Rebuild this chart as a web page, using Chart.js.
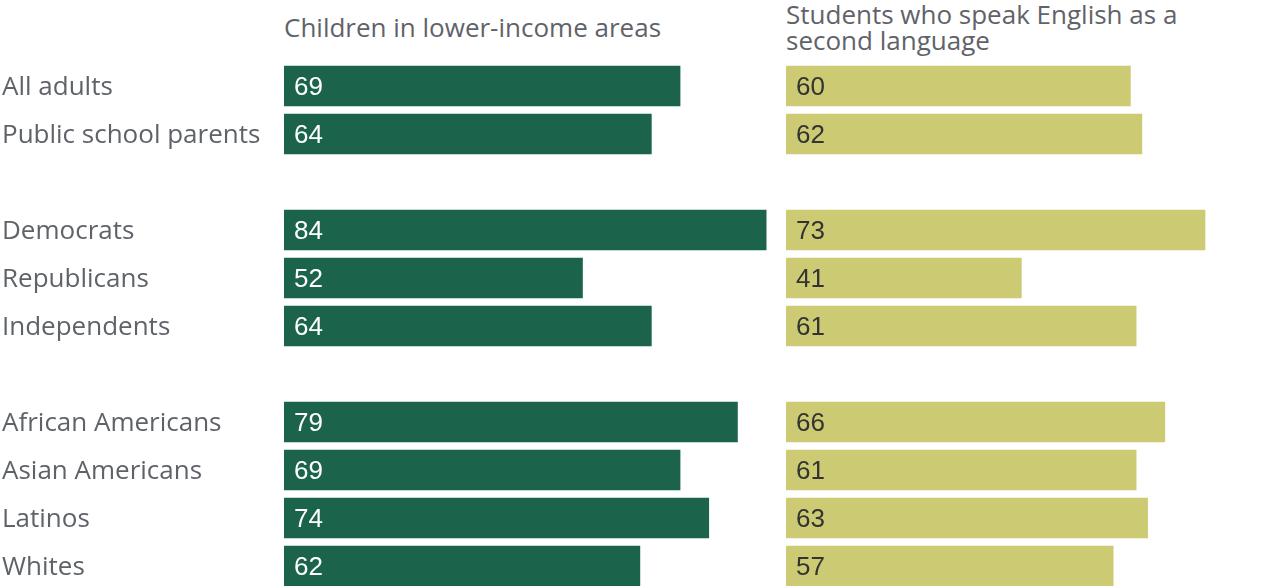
<!DOCTYPE html>
<html>
<head>
<meta charset="utf-8">
<script src="https://cdn.jsdelivr.net/npm/chart.js@4/dist/chart.umd.min.js"></script>
<style>
  html, body { margin: 0; padding: 0; background: #fff; overflow: hidden; }
  #wrap { position: relative; width: 1280px; height: 586px; overflow: hidden; }
  .title { position: absolute; font-family: "Open Sans", sans-serif; font-size: 26px; color: #5f6369; line-height: 26px; white-space: nowrap; }
  #leftBox { position: absolute; left: 0; top: 0; width: 776px; height: 590px; }
  #rightBox { position: absolute; left: 786px; top: 0; width: 494px; height: 590px; }
</style>
</head>
<body>
<div id="wrap">
  <div class="title" style="left:284px; top:14px;">Children in lower-income areas</div>
  <div class="title" style="left:786px; top:1px;">Students who speak English as a<br>second language</div>
  <div id="leftBox"><canvas id="leftChart"></canvas></div>
  <div id="rightBox"><canvas id="rightChart"></canvas></div>
</div>
<script>
// Categories (empty strings are the spacer rows between groups)
const categories = ['All adults', 'Public school parents', '',
    'Democrats', 'Republicans', 'Independents', '',
    'African Americans', 'Asian Americans', 'Latinos', 'Whites'];

const lowerIncome = [69, 64, null, 84, 52, 64, null, 79, 69, 74, 62];
const secondLanguage = [60, 62, null, 73, 41, 61, null, 66, 61, 63, 57];

const labelFont = '"Open Sans", sans-serif';
const PX_PER_UNIT = 5.74;

// Draw the value at the start of each bar
const valueLabels = {
    id: 'valueLabels',
    afterDatasetsDraw(chart, args, opts) {
        const ctx = chart.ctx;
        ctx.save();
        ctx.font = '26px "Liberation Sans", Arial, sans-serif';
        ctx.fillStyle = opts.color;
        ctx.textAlign = 'left';
        ctx.textBaseline = 'middle';
        chart.getDatasetMeta(0).data.forEach((bar, i) => {
            const v = chart.data.datasets[0].data[i];
            if (v == null) return;
            ctx.fillText(String(v), bar.base + 10, bar.y + 2);
        });
        ctx.restore();
    }
};

function makeChart(id, values, color, textColor, showLabels, areaWidth) {
    const ctx = document.getElementById(id).getContext('2d');
    const yAxis = {
        display: showLabels,
        grid: { display: false },
        border: { display: false },
        ticks: {
            crossAlign: 'far',
            labelOffset: 2,
            color: '#5f6369',
            font: { family: labelFont, size: 26 }
        }
    };
    if (showLabels) {
        yAxis.afterFit = function(scale) {
            scale.width = 282;
            scale.paddingTop = 0;
            scale.paddingBottom = 0;
        };
    }
    return new Chart(ctx, {
        type: 'bar',
        data: {
            labels: categories,
            datasets: [{
                data: values,
                backgroundColor: color,
                barThickness: 40
            }]
        },
        options: {
            indexAxis: 'y',
            responsive: true,
            maintainAspectRatio: false,
            animation: false,
            layout: { padding: { top: 62, bottom: 0, left: showLabels ? 2 : 0, right: 0 } },
            plugins: {
                legend: { display: false },
                tooltip: { enabled: false },
                valueLabels: { color: textColor }
            },
            scales: {
                x: {
                    display: false,
                    min: 0,
                    max: areaWidth / PX_PER_UNIT
                },
                y: yAxis
            }
        },
        plugins: [valueLabels]
    });
}

makeChart('leftChart', lowerIncome, '#1b634a', '#ffffff', true, 492);
makeChart('rightChart', secondLanguage, '#cccb74', '#333333', false, 494);
</script>
</body>
</html>
